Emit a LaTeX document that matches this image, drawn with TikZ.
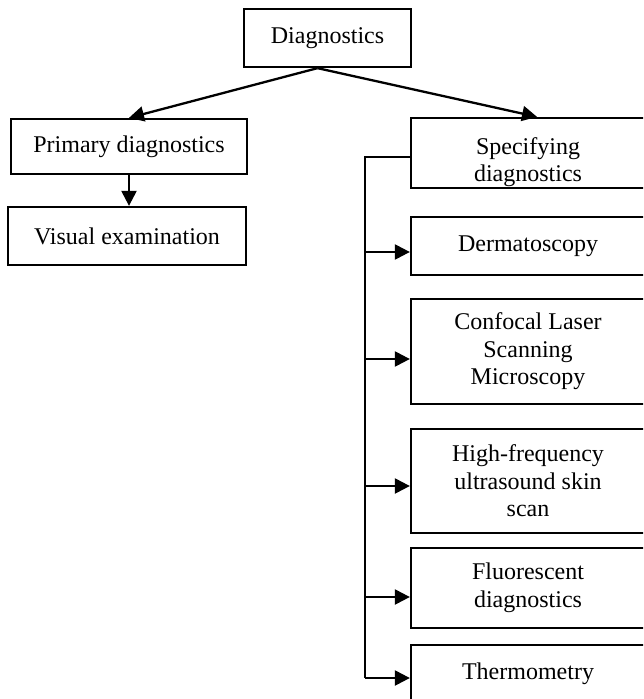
\documentclass[tikz,border=0pt]{standalone}
\usepackage{fontspec}
\setmainfont{Liberation Serif}
\usepackage{tikz}
\usetikzlibrary{arrows.meta, positioning}

\begin{document}
\begin{tikzpicture}[x=0.5pt, y=-0.5pt, line width=1.15pt,
  box/.style={draw, rectangle, inner sep=0pt, align=center, font=\fontsize{12}{13.8}\selectfont},
  arr/.style={-{Triangle[length=7.5pt, width=7.5pt]}}]
\useasboundingbox (0,0) rectangle (643,699);
\clip (0,0) rectangle (643,699);
\node [box, minimum width=83.5pt, minimum height=29pt] (diag) at (327.5,38) {Diagnostics};
\node [box, minimum width=118pt, minimum height=27.5pt] (prim) at (129,146.5) {Primary diagnostics};
\node [box, minimum width=119pt, minimum height=29pt] (vis) at (127,236) {Visual examination};
\node [box, minimum width=117pt, minimum height=35pt] (spec) at (528,153) {};
\node [align=center, font=\fontsize{12}{13.8}\selectfont] (spectext) at (528,162) {Specifying\\diagnostics};
\node [box, minimum width=117pt, minimum height=29pt] (derm) at (528,246) {Dermatoscopy};
\node [box, minimum width=117pt, minimum height=52.5pt] (conf) at (528,351.5) {Confocal Laser\\Scanning\\Microscopy};
\node [box, minimum width=117pt, minimum height=52pt] (hf) at (528,481) {High-frequency\\ultrasound skin\\scan};
\node [box, minimum width=117pt, minimum height=40pt] (fluor) at (528,588) {Fluorescent\\diagnostics};
\node [box, minimum width=117pt, minimum height=29pt] (thermo) at (528,674) {Thermometry};
\draw [arr] ([xshift=-5pt]diag.south) -- (prim.north);
\draw [arr] ([xshift=-5pt]diag.south) -- ([xshift=4.5pt]spec.north);
\draw [arr] (prim.south) -- (prim.south |- vis.north);
\coordinate (bus) at (365,678);
\draw ([yshift=-2pt]spec.west) -| (bus);
\foreach \n/\y in {derm/252, conf/359, hf/486, fluor/597, thermo/678} {
  \coordinate (b\n) at (365,\y);
  \draw [arr] (b\n) -- (b\n -| \n.west);
}
\end{tikzpicture}
\end{document}
